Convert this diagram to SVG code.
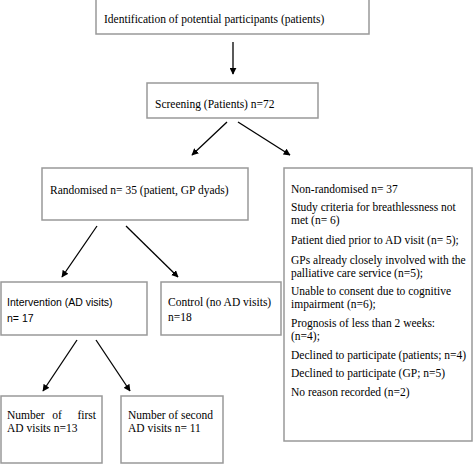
<svg xmlns="http://www.w3.org/2000/svg" width="473" height="465" viewBox="0 0 473 465">
<defs>
<marker id="ah" viewBox="0 0 10 10" refX="9" refY="5" markerWidth="7" markerHeight="7" markerUnits="userSpaceOnUse" orient="auto">
<path d="M0,0 L10,5 L0,10 z" fill="#000"/>
</marker>
<style>
.box{fill:#fff;stroke:#999;stroke-width:1.5}
.t{font-family:"Liberation Serif","Times New Roman","DejaVu Serif",serif;font-size:11.5px;fill:#000}
.s{font-family:"Liberation Sans",Arial,sans-serif;font-size:10.5px;fill:#000}
.c{stroke:#000;stroke-width:1.3;fill:none;marker-end:url(#ah)}
</style>
</defs>
<rect width="473" height="465" fill="#fff"/>
<g id="n1"><rect class="box" x="96" y="-2" width="273" height="36"/>
<text class="t" x="104" y="23">Identification of potential participants (patients)</text></g>
<g id="n2"><rect class="box" x="147" y="83" width="171" height="35"/>
<text class="t" x="155" y="108">Screening (Patients) n=72</text></g>
<g id="n3"><rect class="box" x="42" y="168" width="206" height="52"/>
<text class="t" x="50" y="194">Randomised n= 35 (patient, GP dyads)</text></g>
<g id="n4"><rect class="box" x="1" y="282" width="146" height="53"/>
<text class="s" x="7" y="306">Intervention (AD visits)</text>
<text class="s" x="7" y="322">n= 17</text></g>
<g id="n5"><rect class="box" x="161" y="282" width="120" height="53"/>
<text class="t" x="168" y="306">Control (no AD visits)</text>
<text class="t" x="168" y="321">n=18</text></g>
<g id="n6"><rect class="box" x="284" y="168" width="188" height="273"/>
<text class="t" x="291" y="193">Non-randomised n= 37</text>
<text class="t" x="291" y="211">Study criteria for breathlessness not</text>
<text class="t" x="291" y="224">met (n= 6)</text>
<text class="t" x="291" y="244">Patient died prior to AD visit (n= 5);</text>
<text class="t" x="291" y="264">GPs already closely involved with the</text>
<text class="t" x="291" y="277">palliative care service (n=5);</text>
<text class="t" x="291" y="295">Unable to consent due to cognitive</text>
<text class="t" x="291" y="308">impairment (n=6);</text>
<text class="t" x="291" y="327">Prognosis of less than 2 weeks:</text>
<text class="t" x="291" y="340">(n=4);</text>
<text class="t" x="291" y="359">Declined to participate (patients; n=4)</text>
<text class="t" x="291" y="377">Declined to participate (GP; n=5)</text>
<text class="t" x="291" y="396">No reason recorded (n=2)</text></g>
<g id="n7"><rect class="box" x="1" y="396" width="101" height="67"/>
<text class="t" x="7" y="419">Number</text>
<text class="t" x="57" y="419" text-anchor="middle">of</text>
<text class="t" x="96" y="419" text-anchor="end">first</text>
<text class="t" x="7" y="432">AD visits n=13</text></g>
<g id="n8"><rect class="box" x="121" y="396" width="102" height="67"/>
<text class="t" x="128" y="419">Number of second</text>
<text class="t" x="128" y="432">AD visits n= 11</text></g>
<g id="connectors">
<line class="c" x1="233" y1="42" x2="233" y2="74"/>
<line class="c" x1="227" y1="122" x2="192" y2="155"/>
<line class="c" x1="238" y1="122" x2="290" y2="155"/>
<line class="c" x1="97" y1="226" x2="62" y2="277"/>
<line class="c" x1="126" y1="226" x2="178" y2="277"/>
<line class="c" x1="77" y1="340" x2="43" y2="391"/>
<line class="c" x1="96" y1="340" x2="130" y2="391"/>
</g>
</svg>
